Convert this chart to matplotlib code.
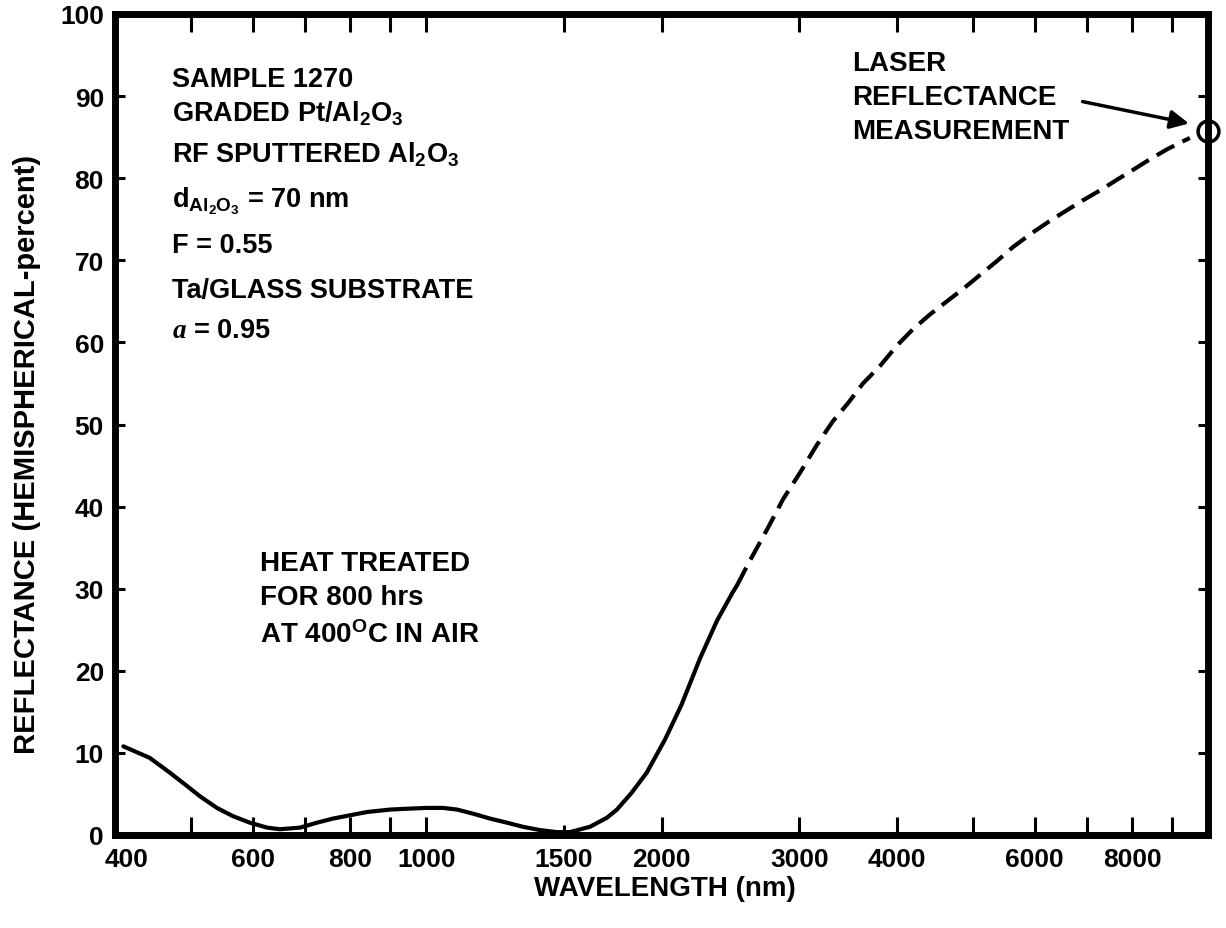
import matplotlib
matplotlib.use("Agg")
import matplotlib.pyplot as plt
from matplotlib.transforms import ScaledTranslation

# ================== Data ==================

# solid part of the measured curve (nm, %)
wl_solid = [410, 443, 470, 494, 514, 540, 566, 595, 626, 650, 690, 725, 760, 840, 900,
            945, 1002, 1051, 1095, 1148, 1207, 1269, 1330, 1398, 1470, 1527, 1620, 1703,
            1754, 1830, 1915, 2020, 2120, 2240, 2355, 2468, 2498]
refl_solid = [10.8, 9.4, 7.6, 6.0, 4.7, 3.3, 2.3, 1.5, 0.9, 0.7, 0.9, 1.5, 2.0, 2.8, 3.1,
              3.2, 3.3, 3.3, 3.1, 2.6, 2.0, 1.5, 1.0, 0.6, 0.35, 0.35, 1.0, 2.1,
              3.1, 5.1, 7.6, 11.6, 15.8, 21.5, 26.1, 29.6, 30.4]

# dashed (extrapolated) part
wl_dash = [2498, 2594, 2729, 2861, 3006, 3160, 3313, 3464, 3620, 3804, 4000, 4193, 4409,
           4635, 4859, 5108, 5370, 5628, 5950, 6276, 6600, 6917, 7271, 7645, 8015, 8426,
           8857, 9201, 9480]
refl_dash = [30.4, 33.4, 37.2, 40.9, 44.1, 47.5, 50.4, 52.6, 55.0, 57.1, 59.6, 61.6, 63.4,
             65.0, 66.5, 68.2, 69.9, 71.6, 73.3, 74.8, 76.1, 77.3, 78.5, 79.8, 81.0, 82.3,
             83.5, 84.3, 84.9]

# laser point
laser_wl = [10000]
laser_refl = [85.8]

xticks_major = [400, 600, 800, 1000, 1500, 2000, 3000, 4000, 6000, 8000]
xticks_labels = ["400", "600", "800", "1000", "1500", "2000", "3000", "4000", "6000", "8000"]
xticks_minor = [500, 700, 900, 5000, 7000, 9000]
yticks = [0, 10, 20, 30, 40, 50, 60, 70, 80, 90, 100]

# ================== Style ==================

plt.rcParams['font.family'] = ['Liberation Sans', 'DejaVu Sans']
plt.rcParams['font.weight'] = 'bold'
plt.rcParams['mathtext.fontset'] = 'custom'
plt.rcParams['mathtext.rm'] = 'Liberation Sans:bold'
plt.rcParams['mathtext.bf'] = 'Liberation Sans:bold'
plt.rcParams['mathtext.it'] = 'Liberation Serif:italic:bold'
plt.rcParams['mathtext.default'] = 'rm'

fig = plt.figure(figsize=(12.26, 9.29), dpi=100)
ax = fig.add_axes([115 / 1226, 1 - 836 / 929, 1093 / 1226, 821 / 929])

# ================== Curve ==================

ax.plot(wl_solid, refl_solid, color='k', lw=3, solid_capstyle='round', solid_joinstyle='round')
ax.plot(wl_dash, refl_dash, color='k', lw=3, dashes=(4.8, 2.2))
ax.plot(laser_wl, laser_refl, 'o', ms=15, mfc='none', mec='k', mew=2.5, clip_on=False, zorder=5)

# ================== Axes ==================

ax.set_xscale('log')
ax.set_xlim(400, 10000)
ax.set_ylim(0, 100)

ax.set_xticks(xticks_major)
ax.set_xticklabels(xticks_labels)
ax.set_xticks(xticks_minor, minor=True)
ax.set_xticklabels([], minor=True)
ax.set_yticks(yticks)

ax.tick_params(axis='x', which='both', direction='in', length=13, width=2.2,
               top=True, bottom=True, pad=9, labelsize=19)
ax.tick_params(axis='y', which='both', direction='in', length=7, width=2.2,
               left=True, right=True, pad=8, labelsize=19)
# the 1500 tick is drawn shorter in the original
ax.xaxis.get_major_ticks()[4].tick1line.set_markersize(7)

for s in ax.spines.values():
    s.set_linewidth(5)

for lab in ax.get_xticklabels() + ax.get_yticklabels():
    lab.set_fontweight('bold')

# "400" sits a little right of the corner
lab400 = ax.xaxis.get_major_ticks()[0].label1
lab400.set_transform(lab400.get_transform() + ScaledTranslation(0.12, 0, fig.dpi_scale_trans))

ax.set_xlabel("WAVELENGTH (nm)", fontsize=20, fontweight='bold')
ax.xaxis.set_label_coords(0.503, -0.049)
ax.set_ylabel("REFLECTANCE (HEMISPHERICAL-percent)", fontsize=21, fontweight='bold')
ax.yaxis.set_label_coords(-0.068, 0.465)

# ================== Annotations ==================

info = ["SAMPLE 1270",
        r"GRADED Pt/Al$_2$O$_3$",
        r"RF SPUTTERED Al$_2$O$_3$",
        r"d$_{Al_2O_3}$ = 70 nm",
        "F = 0.55",
        "Ta/GLASS SUBSTRATE",
        r"$\mathit{a}$ = 0.95"]
info_y = [91.2, 87.0, 82.0, 76.6, 71.0, 65.5, 60.7]
for t, y in zip(info, info_y):
    ax.text(473, y, t, fontsize=19.5, fontweight='bold', va='baseline', ha='left')

heat = ["HEAT TREATED", "FOR 800 hrs", r"AT 400$^{O}$C IN AIR"]
heat_y = [32.3, 28.1, 23.5]
for t, y in zip(heat, heat_y):
    ax.text(613, y, t, fontsize=20, fontweight='bold', va='baseline', ha='left')

laser = ["LASER", "REFLECTANCE", "MEASUREMENT"]
laser_y = [93.2, 89.0, 84.9]
for t, y in zip(laser, laser_y):
    ax.text(3508, y, t, fontsize=20, fontweight='bold', va='baseline', ha='left')

ax.annotate('', xy=(9530, 86.6), xytext=(6857, 89.4),
            arrowprops=dict(arrowstyle='-|>', lw=2.5, color='k', mutation_scale=28))

fig.savefig("out.png", dpi=100)
